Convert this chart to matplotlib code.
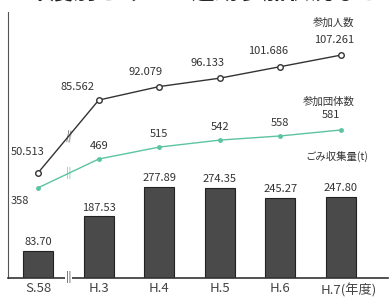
import matplotlib
matplotlib.use("Agg")
import matplotlib.pyplot as plt

plt.rcParams['font.family'] = ['Noto Sans CJK JP', 'DejaVu Sans']

# data
years = ["S.58", "H.3", "H.4", "H.5", "H.6", "H.7(年度)"]
gomi = [83.70, 187.53, 277.89, 274.35, 245.27, 247.80]
gomi_lbl = ["83.70", "187.53", "277.89", "274.35", "245.27", "247.80"]
ninzu = [50.513, 85.562, 92.079, 96.133, 101.686, 107.261]
ninzu_lbl = ["50.513", "85.562", "92.079", "96.133", "101.686", "107.261"]
dantai = [358, 469, 515, 542, 558, 581]

W, H = 392, 303
fig = plt.figure(figsize=(W / 100, H / 100), dpi=100)
rect = [8 / W, 25 / H, 380 / W, 266 / H]

ax = fig.add_axes(rect)
ax2 = fig.add_axes(rect, sharex=ax)
ax3 = fig.add_axes(rect, sharex=ax)
for a in (ax2, ax3):
    a.patch.set_visible(False)
    a.axis('off')

x = list(range(len(years)))
ax.set_xlim(-0.5, 5.78)
ax.set_ylim(0, 811)
ax2.set_ylim(-0.4, 128.1)
ax3.set_ylim(9.5, 1036.6)

# bars
ax.bar(x, gomi, width=0.5, color='#4a4a4a', edgecolor='#222222', linewidth=0.8)
for xi, v, t in zip(x, gomi, gomi_lbl):
    ax.text(xi, v + 12, t, ha='center', va='bottom', fontsize=8, color='#333333')
ax.text(5.45, 355, "ごみ収集量(t)", ha='right', va='bottom', fontsize=7.5, color='#333333')

for s in ('top', 'right'):
    ax.spines[s].set_visible(False)
ax.spines['left'].set_color('#555555')
ax.spines['bottom'].set_color('#333333')
ax.spines['bottom'].set_linewidth(1.2)
ax.set_yticks([])
ax.set_xticks(x)
ax.set_xticklabels(years[:-1] + [""], fontsize=9.5, color='#444444')
ax.tick_params(axis='x', length=0, pad=3)
# last year label sits a bit to the right
ax.annotate(years[-1], (x[-1], 0), xycoords=('data', 'axes fraction'),
            xytext=(6, -4), textcoords='offset points', ha='center', va='top',
            fontsize=9.5, color='#444444')

# participants line
ax2.plot(x, ninzu, color='#333333', linewidth=1.0, marker='o', markersize=4,
         markerfacecolor='white', markeredgecolor='#333333')
offs = [(-8, 11), (-15, 6), (-10, 7), (-9, 7), (-9, 8), (-5, 7)]
for xi, v, t, (dx, dy) in zip(x, ninzu, ninzu_lbl, offs):
    ax2.annotate(t, (xi, v), xytext=(dx, dy), textcoords='offset points',
                 ha='center', va='bottom', fontsize=8, color='#333333')
ax2.annotate("参加人数", (5, 107.261), xytext=(-5, 20), textcoords='offset points',
             ha='center', va='bottom', fontsize=7.5, color='#333333')
ax2.text(0.5, (ninzu[0] + ninzu[1]) / 2, "||", ha='center', va='center',
         fontsize=7, color='#333333', rotation=-10)

# groups line
ax3.plot(x, dantai, color='#5cc4a0', linewidth=1.0, marker='o', markersize=2.5,
         markerfacecolor='#5cc4a0', markeredgecolor='#5cc4a0')
goffs = [(-13, -6), (0, 6), (0, 6), (0, 6), (0, 6), (-7, 7)]
for xi, v, (dx, dy) in zip(x, dantai, goffs):
    va = 'top' if dy < 0 else 'bottom'
    ax3.annotate(str(v), (xi, v), xytext=(dx, dy), textcoords='offset points',
                 ha='center', va=va, fontsize=8, color='#333333')
ax3.annotate("参加団体数", (5, 581), xytext=(-9, 17), textcoords='offset points',
             ha='center', va='bottom', fontsize=7.5, color='#333333')
ax3.text(0.5, (dantai[0] + dantai[1]) / 2, "||", ha='center', va='center',
         fontsize=7, color='#5cc4a0')

# break mark on baseline
ax.text(0.5, 4, "||", ha='center', va='center', fontsize=7, color='#333333',
        bbox=dict(facecolor='white', edgecolor='none', pad=0.5))

# title, only its lower edge shows at the top of the picture
fig.text(0.52, 1 - 4 / H, "年度別ごみゼロ運動参加状況など", ha='center', va='bottom',
         fontsize=17, fontweight='bold', color='#222222')

fig.savefig("out.png", dpi=100)
